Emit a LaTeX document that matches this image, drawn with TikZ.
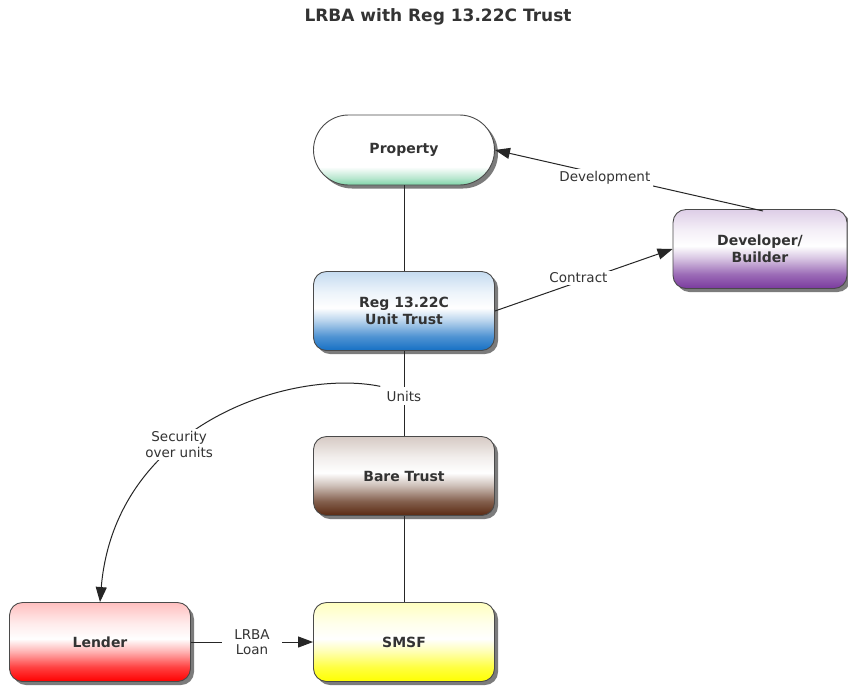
\documentclass[tikz,border=0pt]{standalone}
\usepackage{fontspec}
\setmainfont{DejaVu Sans}
\usetikzlibrary{arrows.meta,shadows}
\definecolor{txt}{HTML}{333333}
\definecolor{edge}{HTML}{4A4A4A}
\definecolor{mint}{HTML}{7FD3A8}
\definecolor{trustblue}{HTML}{1670C4}
\definecolor{devpurple}{HTML}{7A3A9E}
\definecolor{barebrown}{HTML}{5A2A12}
\definecolor{lendred}{HTML}{FF0000}
\definecolor{fundyellow}{HTML}{FFFF00}
\colorlet{tintc}{black}
% glossy fill: strong colour at the bottom, white core, faint tint at the top
\pgfdeclareverticalshading[tintc]{glossy}{100bp}{%
  color(0bp)=(tintc); color(25bp)=(tintc); color(34bp)=(tintc!75!white);
  color(44bp)=(tintc!30!white); color(52bp)=(white); color(62bp)=(tintc!8!white);
  color(75bp)=(tintc!25!white); color(100bp)=(tintc!25!white)}
% pale fill with a thin coloured rim at the bottom
\pgfdeclareverticalshading[tintc]{rim}{100bp}{%
  color(0bp)=(tintc); color(25bp)=(tintc); color(30bp)=(tintc!55!white);
  color(38bp)=(white); color(100bp)=(white)}
\tikzset{
  box/.style={draw=edge, line width=0.9pt, rounded corners=13pt,
    minimum width=181pt, minimum height=79pt, align=center,
    text=txt, font=\fontsize{14}{17}\selectfont\bfseries,
    drop shadow={shadow xshift=3.5pt, shadow yshift=-3.5pt, opacity=0.6, fill=black!85}},
  tint/.style={/utils/exec={\colorlet{tintc}{#1}}, shading=glossy},
  rimtint/.style={/utils/exec={\colorlet{tintc}{#1}}, shading=rim},
  link/.style={draw=black!85, line width=1pt},
  tip/.style={-{Triangle[length=15pt,width=11pt]}},
  lbl/.style={fill=white, text=txt, inner sep=2pt, align=center,
    font=\fontsize{13.5}{16}\selectfont},
}
\begin{document}
\begin{tikzpicture}[x=1pt, y=-1pt]
\useasboundingbox (0,0) rectangle (848,686);
\fill[white] (0,0) rectangle (848,686);

\node[text=txt, font=\fontsize{17}{20}\selectfont\bfseries] (title) at (438,17) {LRBA with Reg 13.22C Trust};

% nodes
\node[box, rimtint=mint, minimum height=70pt, rounded corners=35pt] (property) at (404,150) {Property};
\node[box, tint=trustblue] (unit) at (404,311) {Reg 13.22C\\Unit Trust};
\node[box, tint=devpurple, minimum width=174pt] (dev) at (760,249) {Developer/\\Builder};
\node[box, tint=barebrown] (bare) at (404,476) {Bare Trust};
\node[box, tint=lendred] (lender) at (100,642) {Lender};
\node[box, tint=fundyellow] (smsf) at (404,642) {SMSF};

% connectors
\draw[link] (property) -- (unit);
\draw[link] (unit) -- node[lbl, pos=0.53, inner ysep=4pt] (units) {Units} (bare);
\draw[link] (bare) -- (smsf);
\coordinate (devtop) at (763,211);
\draw[link, tip] (devtop) -- node[lbl, pos=0.59, inner xsep=3pt, yshift=-3pt] {Development} (property.east);
\draw[link, tip] (unit.east) -- node[lbl, pos=0.47, inner xsep=6pt, yshift=4pt] {Contract} (dev.west);
\draw[link, tip] (lender) -- node[lbl, inner xsep=12pt, inner ysep=1pt, font=\fontsize{13.5}{15}\selectfont] {LRBA\\Loan} (smsf);
\draw[link, tip] ([xshift=-4pt]units.north west) .. controls (290,368) and (115,425) .. node[lbl, pos=0.6] {Security\\over units} (lender.north);
\end{tikzpicture}
\end{document}
